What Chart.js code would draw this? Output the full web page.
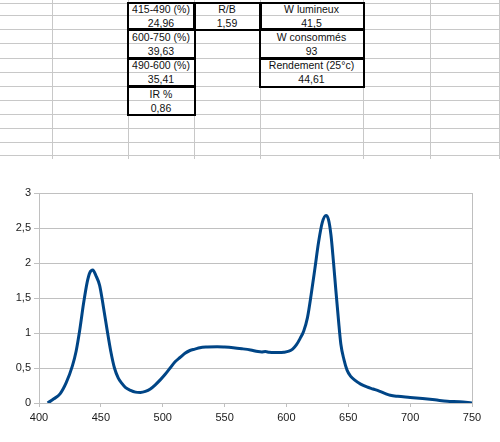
<!DOCTYPE html>
<html>
<head>
<meta charset="utf-8">
<script src="https://cdn.jsdelivr.net/npm/chart.js@4.4.1/dist/chart.umd.min.js"></script>
<style>
  html, body { margin: 0; padding: 0; background: #fff; }
  body { width: 500px; height: 442px; position: relative; overflow: hidden;
         font-family: "Liberation Sans", Arial, sans-serif; }
  .hl, .vl { position: absolute; background: #c8c8c8; }
  .box { position: absolute; border: 2px solid #000; box-sizing: border-box; }
  .txt { position: absolute; text-align: center; font-size: 10.5px; color: #111; white-space: nowrap; }
  #wrap { position: absolute; left: 0; top: 160px; width: 500px; height: 282px; }
</style>
</head>
<body>
<div id="sheet"></div>
<div id="wrap"><canvas id="spectre" width="500" height="282"></canvas></div>
<script>
// spectre (nm -> intensité)
const wavelengths = [407, 412, 417, 422, 427, 430, 433, 436, 439, 441, 443.5, 446, 449, 452, 455, 458, 461, 464, 467, 470,
  474, 478, 482, 486, 490, 494, 498, 502, 506, 510, 514, 518, 522, 526, 530, 536, 544, 550, 557, 564,
  571, 577, 580, 583, 586, 590, 594, 598, 602, 605, 608, 611, 614, 617, 620, 623, 626, 629, 632, 634,
  636, 638, 640, 642, 644, 646.5, 649, 652, 655, 660, 665, 670, 675, 680, 684, 690, 700, 710, 720, 730,
  740, 750];
const intensity = [0, 0.06, 0.13, 0.29, 0.53, 0.74, 1.05, 1.42, 1.73, 1.86, 1.90, 1.82, 1.68, 1.38, 1.05, 0.74, 0.50, 0.36, 0.28, 0.22,
  0.18, 0.155, 0.15, 0.165, 0.20, 0.26, 0.33, 0.41, 0.50, 0.59, 0.65, 0.71, 0.75, 0.77, 0.79, 0.80, 0.805, 0.80, 0.79, 0.775,
  0.757, 0.735, 0.73, 0.735, 0.725, 0.72, 0.72, 0.725, 0.74, 0.77, 0.83, 0.92, 1.03, 1.22, 1.55, 1.92, 2.30, 2.58, 2.68, 2.62,
  2.40, 2.02, 1.60, 1.20, 0.84, 0.62, 0.47, 0.38, 0.33, 0.27, 0.23, 0.20, 0.17, 0.135, 0.11, 0.095, 0.08, 0.063, 0.045, 0.025,
  0.018, 0];
const xTicks = [400, 450, 500, 550, 600, 650, 700, 750];
const yTicks = [0, 0.5, 1, 1.5, 2, 2.5, 3];

// tableau
const tableLabels = ['415-490 (%)', '600-750 (%)', '490-600 (%)', 'IR %'];
const tableValues = ['24,96', '39,63', '35,41', '0,86'];
const ratioLabel = 'R/B';
const ratioValue = '1,59';
const powerLabels = ['W lumineux', 'W consommés', 'Rendement (25°c)'];
const powerValues = ['41,5', '93', '44,61'];

// feuille de calcul
const sheet = document.getElementById('sheet');
const rowY = [2.5, 15, 29, 43, 57.5, 71.5, 86, 100, 114, 128, 142, 155];
const colX = [52, 128, 194, 260, 363, 430, 499];
function add(cls, css, text) {
  const d = document.createElement('div');
  d.className = cls;
  Object.assign(d.style, css);
  if (text !== undefined) d.textContent = text;
  sheet.appendChild(d);
}
rowY.forEach(y => add('hl', { left: '0px', top: Math.round(y) + 'px', width: '500px', height: '1px' }));
colX.forEach(x => add('vl', { left: x + 'px', top: '0px', width: '1px', height: '159px' }));

function cellText(x0, x1, r, text) {
  add('txt', { left: x0 + 'px', width: (x1 - x0) + 'px', top: (rowY[r] + 0.5) + 'px',
               height: (rowY[r + 1] - rowY[r]) + 'px', lineHeight: (rowY[r + 1] - rowY[r] + 1) + 'px' }, text);
}
function box(x0, x1, r) {
  add('box', { left: (x0 - 1) + 'px', top: (Math.round(rowY[r]) - 1) + 'px',
               width: (x1 - x0 + 3) + 'px', height: (Math.round(rowY[r + 2]) - Math.round(rowY[r]) + 3) + 'px' });
}
tableLabels.forEach((t, i) => {
  box(colX[1], colX[2], i * 2);
  cellText(colX[1], colX[2], i * 2, t);
  cellText(colX[1], colX[2], i * 2 + 1, tableValues[i]);
});
box(colX[2], colX[3], 0);
cellText(colX[2], colX[3], 0, ratioLabel);
cellText(colX[2], colX[3], 1, ratioValue);
powerLabels.forEach((t, i) => {
  box(colX[3], colX[4], i * 2);
  cellText(colX[3], colX[4], i * 2, t);
  cellText(colX[3], colX[4], i * 2 + 1, powerValues[i]);
});

// bord droit du graphique
const rightBorder = {
  id: 'rightBorder',
  afterDraw(chart) {
    const a = chart.chartArea, c = chart.ctx;
    c.save();
    c.strokeStyle = '#bfbfbf';
    c.lineWidth = 1;
    c.beginPath();
    c.moveTo(Math.round(a.right) + 0.5, a.top);
    c.lineTo(Math.round(a.right) + 0.5, a.bottom);
    c.stroke();
    c.restore();
  }
};

const gridColor = '#c0c0c0';
const tickFont = { family: '"Liberation Sans", Arial, sans-serif', size: 11 };

new Chart(document.getElementById('spectre'), {
  type: 'line',
  data: {
    datasets: [{
      data: wavelengths.map((w, i) => ({ x: w, y: intensity[i] })),
      borderColor: '#004586',
      borderWidth: 3,
      pointRadius: 0,
      cubicInterpolationMode: 'monotone',
      fill: false
    }]
  },
  options: {
    responsive: false,
    animation: false,
    layout: { padding: { top: 33, right: 28, left: 0, bottom: 0 } },
    plugins: { legend: { display: false }, tooltip: { enabled: false } },
    scales: {
      x: {
        type: 'linear',
        min: 400, max: 750,
        afterBuildTicks: s => { s.ticks = xTicks.map(v => ({ value: v })); },
        afterFit: s => { s.height = 39; },
        grid: { drawOnChartArea: false, color: gridColor, tickLength: 4 },
        border: { color: gridColor },
        ticks: { color: '#1a1a1a', font: tickFont, padding: 4, maxRotation: 0 }
      },
      y: {
        min: 0, max: 3,
        afterBuildTicks: s => { s.ticks = yTicks.map(v => ({ value: v })); },
        afterFit: s => { s.width = 39; },
        grid: { color: gridColor, tickLength: 5 },
        border: { color: gridColor },
        ticks: { color: '#1a1a1a', font: tickFont, padding: 3,
                 callback: v => String(v).replace('.', ',') }
      }
    }
  },
  plugins: [rightBorder]
});
</script>
</body>
</html>
